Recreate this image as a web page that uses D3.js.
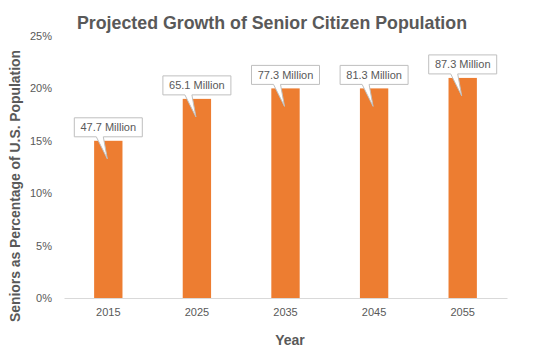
<!DOCTYPE html>
<html><head><meta charset="utf-8">
<script src="https://cdn.jsdelivr.net/npm/d3@7"></script>
<style>body{margin:0;background:#fff}svg{display:block}</style>
</head><body>
<svg id="c" width="547" height="352"></svg>
<script>
const years = ["2015","2025","2035","2045","2055"];
const percentages = [15, 19, 20, 20, 21];
const labels = ["47.7 Million","65.1 Million","77.3 Million","81.3 Million","87.3 Million"];
const yTicks = [0,5,10,15,20,25];

const svg = d3.select("#c");
const W = 547, H = 352;
const m = {left:64, right:40, top:36, bottom:54};
const x = d3.scaleBand().domain(years).range([m.left, W - m.right]).paddingInner(0.68).paddingOuter(0.34);
const y = d3.scaleLinear().domain([0,25]).range([H - m.bottom, m.top]);
const txt = "#595959";
const font = "'Liberation Sans', Arial, sans-serif";

svg.append("rect").attr("width",W).attr("height",H).attr("fill","#fff");

// title
svg.append("text").attr("x",272).attr("y",29).attr("text-anchor","middle")
  .attr("font-family",font).attr("font-weight","bold").attr("font-size",18.5).attr("fill",txt)
  .attr("textLength",390).attr("lengthAdjust","spacingAndGlyphs")
  .text("Projected Growth of Senior Citizen Population");

// y axis
const yAxis = svg.append("g").attr("transform",`translate(${m.left},0)`)
  .call(d3.axisLeft(y).tickValues(yTicks).tickFormat(d=>d+"%").tickSize(0).tickPadding(12));
yAxis.select(".domain").remove();
yAxis.selectAll("text").attr("font-family",font).attr("font-size",11).attr("fill",txt);

// x axis
const xAxis = svg.append("g").attr("transform",`translate(0,${y(0)})`)
  .call(d3.axisBottom(x).tickSize(0).tickPadding(10).tickSizeOuter(0));
xAxis.select(".domain").attr("stroke","#d9d9d9").attr("stroke-width",1);
xAxis.selectAll("text").attr("font-family",font).attr("font-size",11).attr("fill",txt);

// bars
svg.append("g").selectAll("rect").data(years).join("rect")
  .attr("x",d=>x(d)).attr("width",x.bandwidth())
  .attr("y",(d,i)=>y(percentages[i])).attr("height",(d,i)=>y(0)-y(percentages[i]))
  .attr("fill","#ED7D31");

// callouts
const bw = 68, bh = 19;
const g = svg.append("g");
years.forEach((d,i)=>{
  const cx = x(d) + x.bandwidth()/2;
  const top = y(percentages[i]);
  const bx = cx - bw/2, by = top - 23;
  const tipX = cx - 1, tipY = top + 18;
  const p = `M${bx},${by} H${bx+bw} V${by+bh} H${cx-5} L${tipX},${tipY} L${cx-12},${by+bh} H${bx} Z`;
  g.append("path").attr("d",p).attr("fill","#fff").attr("stroke","#bfbfbf").attr("stroke-width",1);
  g.append("text").attr("x",cx).attr("y",by+13.5).attr("text-anchor","middle")
    .attr("font-family",font).attr("font-size",11).attr("fill",txt).text(labels[i]);
});

// axis titles
svg.append("text").attr("transform","translate(20,186) rotate(-90)").attr("text-anchor","middle")
  .attr("font-family",font).attr("font-weight","bold").attr("font-size",14).attr("fill",txt)
  .attr("textLength",272).attr("lengthAdjust","spacingAndGlyphs")
  .text("Seniors as Percentage of U.S. Population");
svg.append("text").attr("x",290).attr("y",345).attr("text-anchor","middle")
  .attr("font-family",font).attr("font-weight","bold").attr("font-size",14).attr("fill",txt)
  .text("Year");
</script>
</body></html>
